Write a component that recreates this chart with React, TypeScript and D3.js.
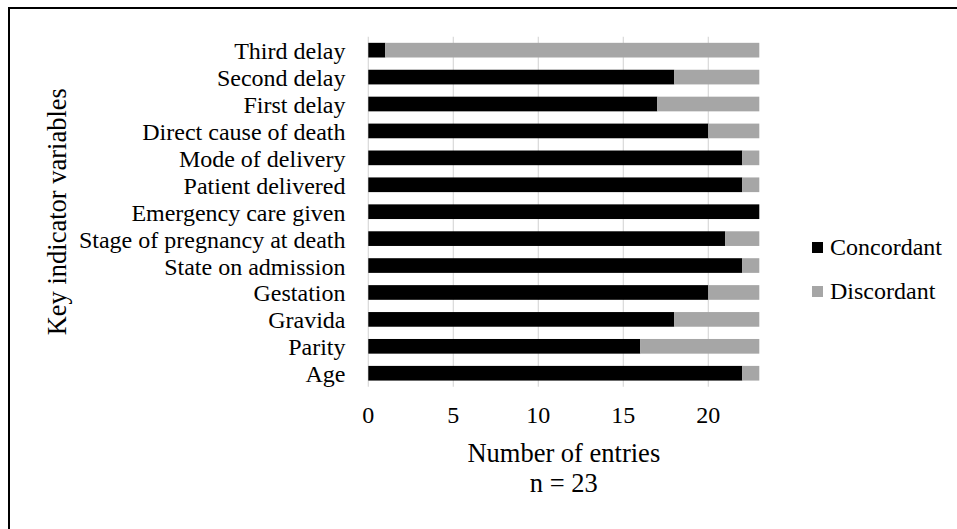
import React from 'react';
import * as d3 from 'd3';

// categories, top to bottom
const variables = [
  'Third delay',
  'Second delay',
  'First delay',
  'Direct cause of death',
  'Mode of delivery',
  'Patient delivered',
  'Emergency care given',
  'Stage of pregnancy at death',
  'State on admission',
  'Gestation',
  'Gravida',
  'Parity',
  'Age',
];
const concordant = [1, 18, 17, 20, 22, 22, 23, 21, 22, 20, 18, 16, 22];
const discordant = [22, 5, 6, 3, 1, 1, 0, 2, 1, 3, 5, 7, 1];
const xTicks = [0, 5, 10, 15, 20];
const seriesNames = ['Concordant', 'Discordant'];
const seriesColors = ['#000000', '#a6a6a6'];

const W = 957;
const H = 529;
const FONT = "'Liberation Serif', 'Times New Roman', Times, serif";

const App = () => {
  const left = 368.3;
  const right = 759.3;
  const top = 36.7;
  const bottom = 386.7;

  const x = d3.scaleLinear().domain([0, 23]).range([left, right]);
  const y = d3.scaleBand()
    .domain(variables)
    .range([top, bottom])
    .paddingInner(0.455)
    .paddingOuter(0.2275);

  const rows = variables.map((v, i) => ({
    name: v,
    values: [concordant[i], discordant[i]],
  }));

  const txt = { fontFamily: FONT };

  return (
    <svg
      width={W}
      height={H}
      style={{ position: 'absolute', left: 0, top: 0, background: '#fff', fontFamily: FONT }}
    >
      <rect x={0} y={0} width={W} height={H} fill="#fff" />
      {/* outer frame, only top and left visible */}
      <rect x={9} y={8} width={W + 20} height={H + 20} fill="none" stroke="#000" strokeWidth={2} />

      {/* gridlines */}
      {xTicks.map((t) => (
        <line
          key={'g' + t}
          x1={x(t)}
          x2={x(t)}
          y1={top}
          y2={bottom}
          stroke="#d9d9d9"
          strokeWidth={1.2}
        />
      ))}

      {/* stacked bars */}
      {rows.map((r) => {
        let acc = 0;
        return (
          <g key={r.name}>
            {r.values.map((v, k) => {
              const x0 = x(acc);
              acc += v;
              const x1 = x(acc);
              if (v === 0) return null;
              return (
                <rect
                  key={k}
                  x={x0}
                  y={y(r.name)}
                  width={x1 - x0}
                  height={y.bandwidth()}
                  fill={seriesColors[k]}
                />
              );
            })}
          </g>
        );
      })}

      {/* category labels */}
      {variables.map((v) => (
        <text
          key={'l' + v}
          x={345.5}
          y={(y(v) as number) + y.bandwidth() / 2 + 9}
          textAnchor="end"
          fontSize={24}
          fill="#000"
          style={txt}
        >
          {v}
        </text>
      ))}

      {/* x tick labels */}
      {xTicks.map((t) => (
        <text key={'t' + t} x={x(t)} y={423} textAnchor="middle" fontSize={24} fill="#000" style={txt}>
          {t}
        </text>
      ))}

      {/* axis titles */}
      <text x={(left + right) / 2} y={461.5} textAnchor="middle" fontSize={26.5} fill="#000" style={txt}>
        Number of entries
      </text>
      <text x={(left + right) / 2} y={491.5} textAnchor="middle" fontSize={26.5} fill="#000" style={txt}>
        n = 23
      </text>
      <text
        transform={`translate(66,${(top + bottom) / 2}) rotate(-90)`}
        textAnchor="middle"
        fontSize={26.5}
        fill="#000"
        style={txt}
      >
        Key indicator variables
      </text>

      {/* legend */}
      {seriesNames.map((s, i) => (
        <g key={s} transform={`translate(812,${242 + i * 44})`}>
          <rect x={0} y={0} width={11} height={11} fill={seriesColors[i]} />
          <text x={18} y={13} fontSize={24} fill="#000" style={txt}>
            {s}
          </text>
        </g>
      ))}
    </svg>
  );
};

export default App;
